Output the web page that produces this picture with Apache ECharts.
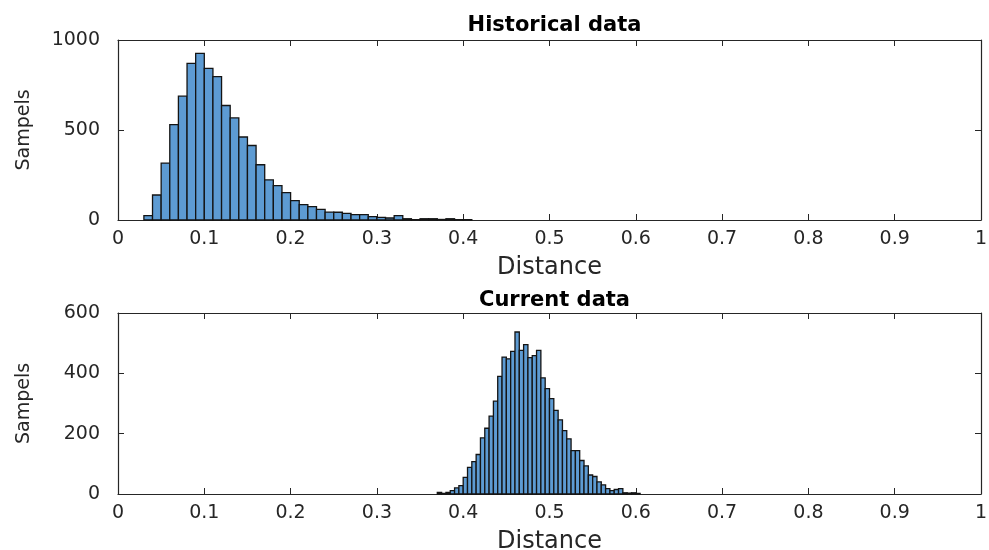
<!DOCTYPE html>
<html>
<head>
<meta charset="utf-8">
<title>Distance histograms</title>
<script src="https://cdn.jsdelivr.net/npm/echarts@6/dist/echarts.min.js"></script>
<style>
  html, body { margin: 0; padding: 0; background: #fff; }
  #chart { width: 989px; height: 550px; }
</style>
</head>
<body>
<div id="chart"></div>
<script>
// Historical distances: bins of width 0.01 starting at 0.03
const histBinStart = 0.03;
const histBinWidth = 0.01;
const histCounts = [
  24, 139, 316, 530, 688, 870, 926, 842, 796, 636,
  567, 461, 414, 307, 223, 191, 152, 108, 85, 74,
  59, 44, 43, 37, 30, 30, 19, 15, 11, 24,
  7, 2, 7, 7, 3, 7, 2, 2
];

// Current distances: bins of width 0.005 starting at 0.37
const curBinStart = 0.37;
const curBinWidth = 0.005;
const curCounts = [
  5, 2, 5, 11, 20, 28, 55, 88, 107, 131,
  186, 218, 258, 308, 390, 454, 448, 473, 537, 476,
  495, 452, 459, 476, 385, 349, 316, 277, 246, 210,
  183, 144, 144, 111, 93, 63, 58, 40, 30, 18,
  11, 15, 18, 4, 3, 4, 2
];

const xTicks = [0, 0.1, 0.2, 0.3, 0.4, 0.5, 0.6, 0.7, 0.8, 0.9, 1];
const histYTicks = [0, 500, 1000];
const curYTicks = [0, 200, 400, 600];

const titles = ['Historical data', 'Current data'];
const xName = 'Distance';
const yName = 'Sampels';

function toBins(start, width, counts) {
  return counts.map((c, i) => {
    const x0 = +(start + i * width).toFixed(4);
    const x1 = +(start + (i + 1) * width).toFixed(4);
    return [x0, x1, c];
  });
}

const FONT = 'DejaVu Sans, Verdana, sans-serif';
const TEXT = '#262626';
const AXIS = '#262626';
const FILL = '#5d9bd3';
const EDGE = '#141414';

function renderBin(params, api) {
  const top = api.coord([api.value(0), api.value(2)]);
  const base = api.coord([api.value(1), 0]);
  return {
    type: 'rect',
    shape: { x: top[0], y: top[1], width: base[0] - top[0], height: base[1] - top[1] },
    style: { fill: FILL, stroke: EDGE, lineWidth: 1.3 }
  };
}

const grids = [
  { left: 118, top: 40, width: 863, height: 180, containLabel: false, outerBoundsMode: 'none' },
  { left: 118, top: 313, width: 863, height: 181, containLabel: false, outerBoundsMode: 'none' }
];

function xAxes(gi) {
  const base = {
    gridIndex: gi, type: 'value', min: xTicks[0], max: xTicks[xTicks.length - 1],
    interval: xTicks[1] - xTicks[0],
    splitLine: { show: false },
    axisLine: { show: true, onZero: false, lineStyle: { color: AXIS, width: 1.2 } },
    axisTick: { show: true, inside: true, length: 6, lineStyle: { color: AXIS } }
  };
  return [
    Object.assign({}, base, {
      position: 'bottom',
      name: xName, nameLocation: 'middle', nameGap: 36,
      nameTextStyle: { fontFamily: FONT, fontSize: 24, color: TEXT },
      axisLabel: { fontFamily: FONT, fontSize: 19, color: TEXT, margin: 10,
                   formatter: v => String(+v.toFixed(1)) }
    }),
    Object.assign({}, base, { position: 'top', axisLabel: { show: false } })
  ];
}

function yAxes(gi, ticks) {
  const base = {
    gridIndex: gi, type: 'value', min: ticks[0], max: ticks[ticks.length - 1],
    interval: ticks[1] - ticks[0],
    splitLine: { show: false },
    axisLine: { show: true, onZero: false, lineStyle: { color: AXIS, width: 1.2 } },
    axisTick: { show: true, inside: true, length: 6, lineStyle: { color: AXIS } }
  };
  return [
    Object.assign({}, base, {
      position: 'left',
      name: yName, nameLocation: 'middle', nameGap: 84, nameRotate: 90,
      nameTextStyle: { fontFamily: FONT, fontSize: 19, color: TEXT },
      axisLabel: { fontFamily: FONT, fontSize: 19, color: TEXT, margin: 18,
                   formatter: v => String(v) }
    }),
    Object.assign({}, base, { position: 'right', axisLabel: { show: false } })
  ];
}

const option = {
  backgroundColor: '#ffffff',
  animation: false,
  title: titles.map((t, i) => ({
    text: t,
    left: grids[i].left + grids[i].width / 2,
    top: i === 0 ? 10 : 285,
    textAlign: 'center',
    textStyle: { fontFamily: FONT, fontSize: 21, fontWeight: 'bold', color: '#000' }
  })),
  grid: grids,
  xAxis: [...xAxes(0), ...xAxes(1)],
  yAxis: [...yAxes(0, histYTicks), ...yAxes(1, curYTicks)],
  series: [
    {
      type: 'custom', xAxisIndex: 0, yAxisIndex: 0,
      renderItem: renderBin, encode: { x: [0, 1], y: 2 },
      data: toBins(histBinStart, histBinWidth, histCounts)
    },
    {
      type: 'custom', xAxisIndex: 2, yAxisIndex: 2,
      renderItem: renderBin, encode: { x: [0, 1], y: 2 },
      data: toBins(curBinStart, curBinWidth, curCounts)
    }
  ]
};

const chart = echarts.init(document.getElementById('chart'), null, { renderer: 'canvas' });
chart.setOption(option);
</script>
</body>
</html>
